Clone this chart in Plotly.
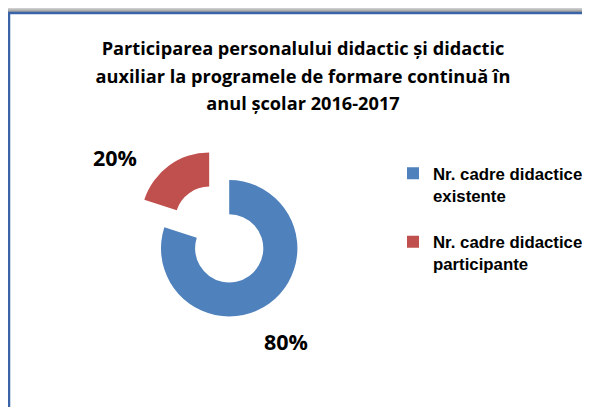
import plotly.graph_objects as go

W, H = 590, 407
# the page body adds an 8px margin; coordinates below are given in screen pixels
OX, OY = 8, 8

categories = ["Nr. cadre didactice existente", "Nr. cadre didactice participante"]
legend_labels = ["<b>Nr. cadre didactice<br>existente</b><br> ",
                 "<b>Nr. cadre didactice<br>participante</b>"]
values = [80, 20]
colors = ["#4F81BD", "#C0504D"]
pulls = [0, 0.5]
title_lines = ["Participarea personalului didactic și didactic",
               "auxiliar la programele de formare continuă în",
               "anul școlar 2016-2017"]


def X(px):
    return (px - OX) / W


def Y(py):
    return 1 - (py - OY) / H


total = sum(values)
pct = [f"{v / total * 100:.0f}%" for v in values]

fig = go.Figure()
fig.add_trace(go.Pie(
    labels=legend_labels,
    values=values,
    hole=0.5,
    sort=False,
    direction="clockwise",
    rotation=0,
    pull=pulls,
    marker=dict(colors=colors, line=dict(width=0)),
    textinfo="none",
    hoverinfo="percent",
    domain=dict(x=[X(229.2 - 102.3), X(229.2 + 102.3)],
                y=[Y(248.3 + 102.3), Y(248.3 - 102.3)]),
))

shapes = []
# shadow above top border
shadow_top = ["#cdcdcd", "#bdbdbd", "#adadad", "#9f9f9f"]
for i, c in enumerate(shadow_top):
    shapes.append(dict(type="rect", xref="paper", yref="paper",
                       x0=X(6), x1=1, y0=Y(8 + i + 1), y1=Y(8 + i),
                       line=dict(width=0), fillcolor=c, layer="below"))
# frame
shapes.append(dict(type="rect", xref="paper", yref="paper",
                   x0=X(9), x1=X(W + 30), y0=Y(H + 30), y1=Y(13),
                   line=dict(width=2.5, color="#3B64A8"), fillcolor="white", layer="below"))

label_font = dict(family="Open Sans, Noto Sans, sans-serif", size=21.5, color="#000000")
annotations = [
    dict(text=f"<b>{pct[1]}</b>", x=X(115.5), y=Y(157.5), xref="paper", yref="paper",
         showarrow=False, xanchor="center", yanchor="middle", font=label_font),
    dict(text=f"<b>{pct[0]}</b>", x=X(286.3), y=Y(341), xref="paper", yref="paper",
         showarrow=False, xanchor="center", yanchor="middle", font=label_font),
]

title_text = "<br>".join(f"<span style='font-size:18.2px'><b>{t}</b></span>" for t in title_lines)

fig.update_layout(
    width=W, height=H,
    margin=dict(l=0, r=0, t=0, b=0),
    paper_bgcolor="white",
    plot_bgcolor="white",
    title=dict(text=title_text, x=X(303), xanchor="center",
               y=Y(55), yanchor="top",
               font=dict(family="Open Sans, Noto Sans, sans-serif", size=21.2, color="#000000")),
    showlegend=True,
    legend=dict(x=X(393), y=Y(155.8), xanchor="left", yanchor="top",
                valign="top", bgcolor="rgba(0,0,0,0)", tracegroupgap=0,
                font=dict(family="Liberation Sans, Arial, sans-serif", size=16.8, color="#000000"),
                itemclick=False, itemdoubleclick=False),
    shapes=shapes,
    annotations=annotations,
)

fig.write_html("out.html")
